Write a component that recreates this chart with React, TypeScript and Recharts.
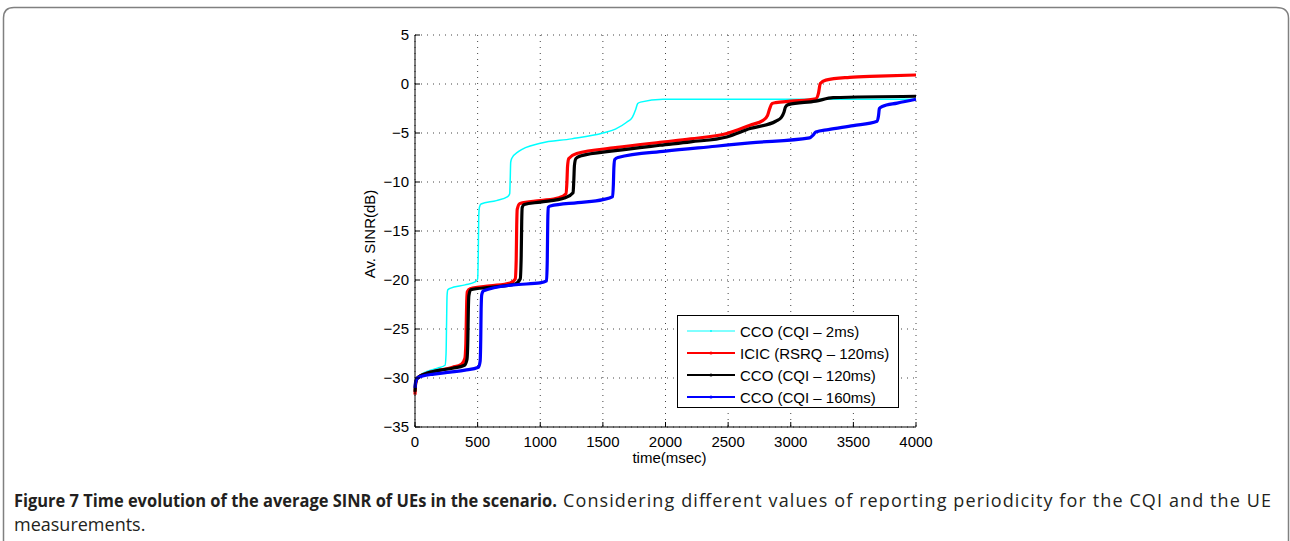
import React from 'react';
import { LineChart, Line, XAxis, YAxis, CartesianGrid } from 'recharts';

// axis ticks
const xTicks = [0, 500, 1000, 1500, 2000, 2500, 3000, 3500, 4000];
const yTicks = [-35, -30, -25, -20, -15, -10, -5, 0, 5];

// CCO (CQI - 2ms)
const cyanTime = [0, 8, 40, 100, 180, 240, 248, 252, 256, 262, 280, 400, 480, 500, 505, 509, 514, 527, 650, 740, 756, 760, 764, 772, 825, 1000, 1250, 1500, 1600, 1690, 1735, 1762, 1778, 1800, 1980, 2500, 3200, 4000];
const cyanSinr = [-30.8, -30.1, -29.7, -29.3, -29.0, -28.7, -27.5, -24.5, -21.6, -21.0, -20.85, -20.5, -20.2, -19.9, -17.5, -13.5, -12.6, -12.25, -11.9, -11.5, -11.2, -9.8, -8.0, -7.6, -6.9, -6.05, -5.6, -5.0, -4.6, -3.9, -3.4, -2.6, -2.0, -1.85, -1.56, -1.55, -1.55, -1.55];

// ICIC (RSRQ - 120ms)
const redTime = [0, 5, 15, 40, 100, 200, 300, 370, 398, 406, 410, 413, 418, 440, 600, 760, 800, 808, 812, 816, 838, 1000, 1150, 1205, 1213, 1218, 1228, 1291, 1600, 1956, 2200, 2489, 2675, 2780, 2815, 2832, 2850, 2880, 3000, 3200, 3222, 3236, 3280, 3470, 3700, 4000];
const redSinr = [-31.7, -30.6, -30.1, -29.8, -29.5, -29.2, -28.9, -28.6, -28.0, -26.5, -24.0, -22.2, -21.2, -20.9, -20.6, -20.3, -19.9, -18.0, -14.5, -12.8, -12.2, -11.9, -11.6, -11.2, -10.0, -8.4, -7.6, -7.1, -6.5, -5.95, -5.6, -5.05, -4.2, -3.7, -3.2, -2.5, -2.0, -1.9, -1.75, -1.5, -0.9, 0.05, 0.4, 0.68, 0.8, 0.92];

// CCO (CQI - 120ms)
const blackTime = [0, 5, 15, 40, 100, 200, 300, 395, 415, 422, 426, 430, 445, 600, 800, 840, 848, 852, 856, 872, 1000, 1200, 1262, 1268, 1273, 1285, 1320, 1600, 1956, 2200, 2489, 2675, 2880, 2925, 2945, 2958, 2980, 3200, 3338, 4000];
const blackSinr = [-31.4, -30.5, -30.1, -29.8, -29.5, -29.2, -29.0, -28.7, -28.1, -26.0, -23.0, -21.6, -21.0, -20.75, -20.4, -19.9, -17.5, -14.0, -12.6, -12.3, -12.05, -11.6, -11.1, -9.8, -8.3, -7.6, -7.35, -6.8, -6.25, -5.9, -5.4, -4.55, -3.8, -3.4, -2.9, -2.35, -2.1, -1.75, -1.4, -1.25];

// CCO (CQI - 160ms)
const blueTime = [0, 5, 20, 60, 150, 280, 400, 507, 520, 525, 528, 533, 548, 785, 1000, 1050, 1056, 1060, 1064, 1080, 1300, 1500, 1578, 1584, 1588, 1595, 1620, 2000, 2400, 2675, 3150, 3180, 3200, 3300, 3500, 3690, 3700, 3708, 3730, 3850, 4000];
const blueSinr = [-31.0, -30.4, -30.0, -29.8, -29.6, -29.4, -29.2, -28.9, -28.3, -26.0, -23.0, -21.5, -21.1, -20.5, -20.3, -20.1, -18.0, -14.0, -12.6, -12.45, -12.1, -11.8, -11.5, -10.2, -8.5, -7.7, -7.5, -6.85, -6.35, -6.0, -5.5, -5.2, -4.9, -4.65, -4.25, -3.8, -3.3, -2.5, -2.3, -1.95, -1.56];

const seriesNames = ['CCO (CQI \u2013 2ms)', 'ICIC (RSRQ \u2013 120ms)', 'CCO (CQI \u2013 120ms)', 'CCO (CQI \u2013 160ms)'];
const seriesColors = ['#00ffff', '#ff0000', '#000000', '#0000ff'];

const toPoints = (t: number[], v: number[]) => t.map((x, i) => ({ t: x, v: v[i] }));

const SERIES = [
  { name: seriesNames[0], color: seriesColors[0], width: 1.5, data: toPoints(cyanTime, cyanSinr) },
  { name: seriesNames[1], color: seriesColors[1], width: 3.2, data: toPoints(redTime, redSinr) },
  { name: seriesNames[2], color: seriesColors[2], width: 3.2, data: toPoints(blackTime, blackSinr) },
  { name: seriesNames[3], color: seriesColors[3], width: 3.2, data: toPoints(blueTime, blueSinr) },
];

const AXIS_FONT = '"Liberation Sans", Arial, Helvetica, sans-serif';
const CAPTION_FONT = '"Open Sans", "Noto Sans", sans-serif';
const TICK_LEN = 5;

const fmtY = (v: number) => (v < 0 ? `\u2212${-v}` : `${v}`);

// tick label outside, tick mark pointing into the plot (matlab style)
const BottomTick = ({ x, y, payload }: any) => (
  <g>
    <line x1={x} x2={x} y1={y - 9} y2={y - 9 - TICK_LEN} stroke="#000" strokeWidth={1} />
    <text x={x} y={y} dy="0.71em" textAnchor="middle" fill="#000" fontSize={15} fontFamily={AXIS_FONT}>
      {payload.value}
    </text>
  </g>
);

const LeftTick = ({ x, y, payload }: any) => (
  <g>
    <line x1={x + 6} x2={x + 6 + TICK_LEN} y1={y} y2={y} stroke="#000" strokeWidth={1} />
    <text x={x} y={y} dy="0.355em" textAnchor="end" fill="#000" fontSize={15} fontFamily={AXIS_FONT}>
      {fmtY(payload.value)}
    </text>
  </g>
);

const TopTick = ({ x, y }: any) => <line x1={x} x2={x} y1={y} y2={y + TICK_LEN} stroke="#000" strokeWidth={1} />;
const RightTick = ({ x, y }: any) => <line x1={x} x2={x - TICK_LEN} y1={y} y2={y} stroke="#000" strokeWidth={1} />;

const XLabel = ({ viewBox }: any) => (
  <text x={viewBox.x + viewBox.width / 2 + 4} y={viewBox.y + 36} textAnchor="middle" fill="#000" fontSize={15} fontFamily={AXIS_FONT}>
    time(msec)
  </text>
);

const YLabel = ({ viewBox }: any) => {
  const cx = viewBox.x + 20;
  const cy = viewBox.y + viewBox.height / 2 + 3;
  return (
    <text x={cx} y={cy} transform={`rotate(-90, ${cx}, ${cy})`} textAnchor="middle" fill="#000" fontSize={15} fontFamily={AXIS_FONT}>
      Av. SINR(dB)
    </text>
  );
};

const LegendBox = () => (
  <div
    style={{
      position: 'absolute',
      left: 677,
      top: 315,
      width: 222,
      height: 93,
      border: '1px solid #000',
      background: '#fff',
      fontFamily: AXIS_FONT,
      fontSize: 15,
      color: '#000',
      boxSizing: 'border-box',
      paddingTop: 4,
    }}
  >
    {SERIES.map((s) => (
      <div key={s.name} style={{ display: 'flex', alignItems: 'center', height: 22 }}>
        <svg width={62} height={22} style={{ flexShrink: 0 }}>
          <line x1={9} x2={57} y1={11} y2={11} stroke={s.color} strokeWidth={s.width > 2 ? 2 : 1} />
          <circle cx={33} cy={11} r={s.width > 2 ? 1.6 : 1} fill={s.color} />
        </svg>
        <span style={{ whiteSpace: 'nowrap' }}>{s.name}</span>
      </div>
    ))}
  </div>
);

export default function App() {
  return (
    <div style={{ position: 'absolute', left: 0, top: 0, width: 1290, height: 541, background: '#fff', overflow: 'hidden' }}>
      <svg width={1290} height={541} style={{ position: 'absolute', left: 0, top: 0 }}>
        <path d="M3.5 580 L3.5 18 Q3.5 7.5 14 7.5 L1276 7.5 Q1288.5 7.5 1288.5 18 L1288.5 580" fill="none" stroke="#808080" strokeWidth={1.5} />
        <text x={14} y={507} fontFamily={CAPTION_FONT} fontSize={18} fill="#231f20" fontWeight={700} textLength={543} lengthAdjust="spacingAndGlyphs">
          Figure 7 Time evolution of the average SINR of UEs in the scenario.
        </text>
        <text x={563} y={507} fontFamily={CAPTION_FONT} fontSize={18} fill="#231f20" textLength={708} lengthAdjust="spacing">
          Considering different values of reporting periodicity for the CQI and the UE
        </text>
        <text x={14} y={531} fontFamily={CAPTION_FONT} fontSize={18} fill="#231f20">
          measurements.
        </text>
      </svg>

      <div style={{ position: 'absolute', left: 340, top: 20 }}>
        <LineChart width={600} height={460} margin={{ top: 15, right: 24, bottom: 13, left: 15 }}>
          <CartesianGrid stroke="#444" strokeDasharray="1 5" />
          <XAxis
            xAxisId={0}
            dataKey="t"
            type="number"
            domain={[0, 4000]}
            ticks={xTicks}
            interval={0}
            height={40}
            tickSize={0}
            tickMargin={9}
            tickLine={false}
            axisLine={{ stroke: '#000', strokeWidth: 1 }}
            tick={<BottomTick />}
            label={<XLabel />}
          />
          <XAxis
            xAxisId="top"
            orientation="top"
            dataKey="t"
            type="number"
            domain={[0, 4000]}
            ticks={xTicks}
            interval={0}
            height={0}
            tickSize={0}
            tickMargin={0}
            tickLine={false}
            axisLine={{ stroke: '#000', strokeWidth: 1 }}
            tick={<TopTick />}
          />
          <YAxis
            yAxisId={0}
            type="number"
            domain={[-35, 5]}
            ticks={yTicks}
            interval={0}
            width={60}
            tickSize={0}
            tickMargin={6}
            tickLine={false}
            axisLine={{ stroke: '#000', strokeWidth: 1 }}
            tick={<LeftTick />}
            label={<YLabel />}
          />
          <YAxis
            yAxisId="right"
            orientation="right"
            type="number"
            domain={[-35, 5]}
            ticks={yTicks}
            interval={0}
            width={0}
            tickSize={0}
            tickMargin={0}
            tickLine={false}
            axisLine={{ stroke: '#000', strokeWidth: 1 }}
            tick={<RightTick />}
          />
          {SERIES.map((s) => (
            <Line
              key={s.name}
              data={s.data}
              dataKey="v"
              name={s.name}
              type="monotone"
              stroke={s.color}
              strokeWidth={s.width}
              dot={false}
              activeDot={false}
              isAnimationActive={false}
            />
          ))}
        </LineChart>
      </div>

      <LegendBox />
    </div>
  );
}
